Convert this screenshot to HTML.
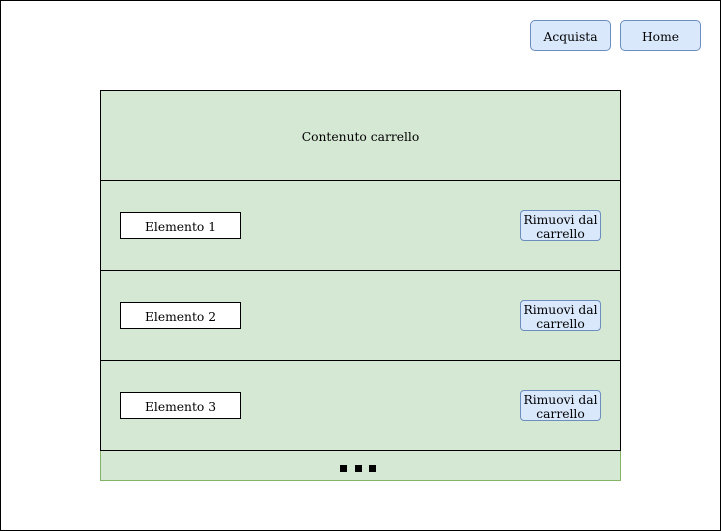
<!DOCTYPE html>
<html><head><meta charset="utf-8"><style>
body{margin:0;width:721px;height:531px;background:#fff;position:relative;overflow:hidden;font-family:"DejaVu Serif","Liberation Serif",serif;font-size:12.3px;color:#000}
div{position:absolute;box-sizing:border-box}
.frame{left:0;top:0;width:721px;height:531px;border:1px solid #000}
.btn{background:#dae8fc;border:1px solid #6c8ebf;border-radius:5px;display:flex;align-items:center;justify-content:center;text-align:center;padding-top:3px}
.row{left:100px;width:521px;height:91px;background:#d5e8d4;border:1px solid #000}
.el{left:19px;top:31px;width:121px;height:27px;background:#fff;border:1px solid #000;display:flex;align-items:center;justify-content:center;padding-top:3px}
.rm{left:419px;top:29px;width:81px;height:31px;line-height:14px;border-radius:4px;padding-top:2px}
.sq{top:465px;width:7px;height:7px;background:#000}
</style></head><body>
<div class="frame"></div>
<div class="btn" style="left:530px;top:20px;width:81px;height:31px">Acquista</div>
<div class="btn" style="left:620px;top:20px;width:81px;height:31px">Home</div>
<div class="row" style="top:90px;display:flex;align-items:center;justify-content:center;padding-top:3px">Contenuto carrello</div>
<div class="row" style="top:180px"><div class="el">Elemento 1</div><div class="btn rm">Rimuovi dal<br>carrello</div></div>
<div class="row" style="top:270px"><div class="el">Elemento 2</div><div class="btn rm">Rimuovi dal<br>carrello</div></div>
<div class="row" style="top:360px"><div class="el">Elemento 3</div><div class="btn rm">Rimuovi dal<br>carrello</div></div>
<div style="left:100px;top:451px;width:521px;height:30px;background:#d5e8d4;border:1px solid #82b366;border-top:none"></div>
<div class="sq" style="left:340px"></div>
<div class="sq" style="left:355px"></div>
<div class="sq" style="left:369px"></div>
</body></html>
